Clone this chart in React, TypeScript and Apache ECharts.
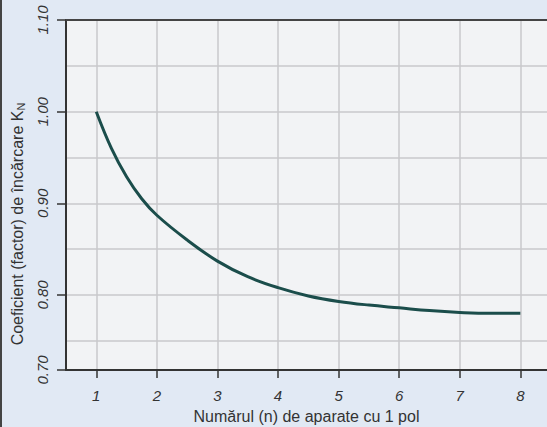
import React, { useEffect, useRef } from "react";
import * as echarts from "echarts";

const xValues = [1, 1.25, 1.5, 1.75, 2, 2.5, 3, 3.5, 4, 4.5, 5, 5.5, 6, 6.5, 7, 7.5, 8];
const kValues = [1.0, 0.96, 0.929, 0.905, 0.887, 0.86, 0.837, 0.82, 0.808, 0.799, 0.793, 0.789, 0.786, 0.783, 0.781, 0.78, 0.78];
const xTickLabels = [1, 2, 3, 4, 5, 6, 7, 8];
const yAxisMin = 0.7182;
const yAxisMax = 1.1;
const xAxisMin = 0.5;
const xAxisMax = 8.44;
const xTitle = "Numărul (n) de aparate cu 1 pol";
const yTitle = "Coeficient (factor) de încărcare K";
const ySub = "N";
const bottomLabel = "0.70";

export default function App() {
  const ref = useRef<HTMLDivElement>(null);
  useEffect(() => {
    if (!ref.current) return;
    const chart = echarts.init(ref.current, null, { renderer: "svg" });
    const font = "'Liberation Sans', Arial, sans-serif";
    const data = xValues.map((x, i) => [x, kValues[i]]);
    chart.setOption({
      animation: false,
      backgroundColor: "#e1e9f4",
      textStyle: { fontFamily: font },
      grid: {
        left: 66,
        top: 20,
        right: 0,
        bottom: 57,
        containLabel: false,
        outerBoundsMode: "none",
        show: true,
        backgroundColor: "#f2f3f5",
        borderWidth: 0,
      },
      xAxis: [
        {
          type: "value",
          min: xAxisMin,
          max: xAxisMax,
          minInterval: 1,
          maxInterval: 1,
          axisLine: { show: true, onZero: false, lineStyle: { color: "#333", width: 2 } },
          axisTick: { show: true, length: 8, customValues: xTickLabels, lineStyle: { color: "#333", width: 1.5 } },
          axisLabel: {
            customValues: xTickLabels,
            margin: 18,
            fontSize: 15,
            fontStyle: "italic",
            color: "#333",
            fontFamily: font,
            formatter: (v: number) => String(v),
          },
          splitLine: { show: true, lineStyle: { color: "#c9c9cb", width: 1.5 } },
          name: xTitle,
          nameLocation: "middle",
          nameGap: 38,
          nameTextStyle: { fontSize: 16, color: "#333", fontFamily: font },
        },
        {
          type: "value",
          position: "top",
          min: xAxisMin,
          max: xAxisMax,
          axisLine: { show: true, onZero: false, lineStyle: { color: "#444", width: 2 } },
          axisTick: { show: false },
          axisLabel: { show: false },
          splitLine: { show: false },
        },
      ],
      yAxis: {
        type: "value",
        min: yAxisMin,
        max: yAxisMax,
        minInterval: 0.1,
        maxInterval: 0.1,
        axisLine: { show: true, onZero: false, lineStyle: { color: "#333", width: 2 } },
        axisTick: { show: true, length: 9, lineStyle: { color: "#333", width: 1.5 } },
        axisLabel: {
          rotate: 90,
          margin: 16,
          fontSize: 15,
          fontStyle: "italic",
          color: "#333",
          fontFamily: font,
          formatter: (v: number) => (v < 0.75 ? bottomLabel : v.toFixed(2)),
        },
        splitLine: { show: true, lineStyle: { color: "#c9c9cb", width: 1.5 } },
        minorTick: { show: false, splitNumber: 2 },
        minorSplitLine: { show: true, lineStyle: { color: "#c9c9cb", width: 1.5 } },
      },
      graphic: [
        {
          type: "rect",
          shape: { x: 0, y: 0, width: 2, height: 427 },
          style: { fill: "#444" },
          silent: true,
        },
        {
          type: "text",
          x: 17,
          y: 224,
          rotation: Math.PI / 2,
          silent: true,
          style: {
            text: `{a|${yTitle}}{b|${ySub}}`,
            align: "center",
            verticalAlign: "middle",
            rich: {
              a: { fontSize: 16, fill: "#333", fontFamily: font },
              b: { fontSize: 11, fill: "#333", fontFamily: font, verticalAlign: "bottom", padding: [8, 0, 0, 0] },
            },
          },
        },
      ],
      series: [
        {
          type: "line",
          xAxisIndex: 0,
          data,
          smooth: 0.4,
          showSymbol: false,
          lineStyle: { color: "#1b4d4b", width: 3 },
        },
      ],
    });
    return () => chart.dispose();
  }, []);
  return (
    <div
      ref={ref}
      style={{ position: "absolute", left: 0, top: 0, width: 547, height: 427 }}
    />
  );
}
